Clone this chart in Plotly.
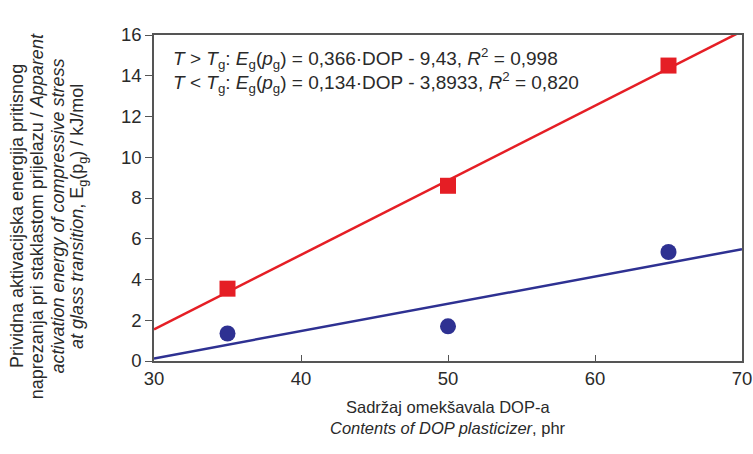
import numpy as np
import plotly.graph_objects as go

dop = [35, 50, 65]
e_above = [3.55, 8.6, 14.5]
e_below = [1.35, 1.7, 5.35]
fit_above = (0.366, -9.43)
fit_below = (0.134, -3.8933)
x_range = [30, 70]
y_range = [0, 16]
x_ticks = [30, 40, 50, 60, 70]
y_ticks = [0, 2, 4, 6, 8, 10, 12, 14, 16]

RED = "#e51e25"
BLUE = "#2e3192"
FONT = "Liberation Sans, Arial, sans-serif"
TXT = "#2a2a2a"

xl = np.array(x_range, dtype=float)

fig = go.Figure()
fig.add_trace(go.Scatter(x=xl, y=fit_above[0] * xl + fit_above[1], mode="lines",
                         line=dict(color=RED, width=2.5), showlegend=False, hoverinfo="skip"))
fig.add_trace(go.Scatter(x=xl, y=fit_below[0] * xl + fit_below[1], mode="lines",
                         line=dict(color=BLUE, width=2.5), showlegend=False, hoverinfo="skip"))
fig.add_trace(go.Scatter(x=dop, y=e_above, mode="markers",
                         marker=dict(symbol="square", size=16, color=RED), showlegend=False))
fig.add_trace(go.Scatter(x=dop, y=e_below, mode="markers",
                         marker=dict(symbol="circle", size=16, color=BLUE), showlegend=False))

fig.update_layout(
    width=753, height=454,
    margin=dict(l=154, r=11, t=35, b=93, autoexpand=False),
    paper_bgcolor="white", plot_bgcolor="white",
    font=dict(family=FONT, color=TXT, size=18.5),
    xaxis=dict(range=x_range, tickvals=x_ticks, showgrid=False, zeroline=False,
               automargin=False,
               showline=True, linecolor="#555", linewidth=1.5, mirror=True,
               ticks="inside", ticklen=6, tickcolor="#555", tickfont=dict(size=18.5)),
    yaxis=dict(range=y_range, tickvals=y_ticks, showgrid=False, zeroline=False,
               automargin=False,
               showline=True, linecolor="#555", linewidth=1.5, mirror=True,
               ticks="outside", ticklen=7, tickcolor="#555", tickfont=dict(size=18.5)),
)

eq1 = ("<i>T</i> &gt; <i>T</i><sub>g</sub>: <i>E</i><sub>g</sub>(<i>p</i><sub>g</sub>) = "
       "0,366·DOP - 9,43, <i>R</i><sup>2</sup> = 0,998")
eq2 = ("<i>T</i> &lt; <i>T</i><sub>g</sub>: <i>E</i><sub>g</sub>(<i>p</i><sub>g</sub>) = "
       "0,134·DOP - 3,8933, <i>R</i><sup>2</sup> = 0,820")
for i, eq in enumerate([eq1, eq2]):
    fig.add_annotation(x=0, y=1, xref="paper", yref="paper", xanchor="left", yanchor="middle",
                       xshift=17, yshift=-23 - 24 * i, text=eq, showarrow=False,
                       align="left", font=dict(size=19, family=FONT, color=TXT))

ytitle_lines = ["Prividna aktivacijska energija pritisnog",
                "naprezanja pri staklastom prijelazu / <i>Apparent</i>",
                "<i>activation energy of compressive stress</i>",
                "<i>at glass transition</i>, E<sub>g</sub>(p<sub>g</sub>) / kJ/mol"]
for i, line in enumerate(ytitle_lines):
    fig.add_annotation(x=0, y=0.5, xref="paper", yref="paper", xanchor="center", yanchor="middle",
                       xshift=-137 + 20.3 * i, yshift=-18, text=line, showarrow=False,
                       textangle=-90, font=dict(size=18, family=FONT, color=TXT))

xtitle_lines = ["Sadržaj omekšavala DOP-a", "<i>Contents of DOP plasticizer</i>, phr"]
for i, line in enumerate(xtitle_lines):
    fig.add_annotation(x=0.5, y=0, xref="paper", yref="paper", xanchor="center", yanchor="middle",
                       yshift=-46 - 21 * i, text=line, showarrow=False,
                       font=dict(size=16.5, family=FONT, color=TXT))

fig.write_html("out.html")
